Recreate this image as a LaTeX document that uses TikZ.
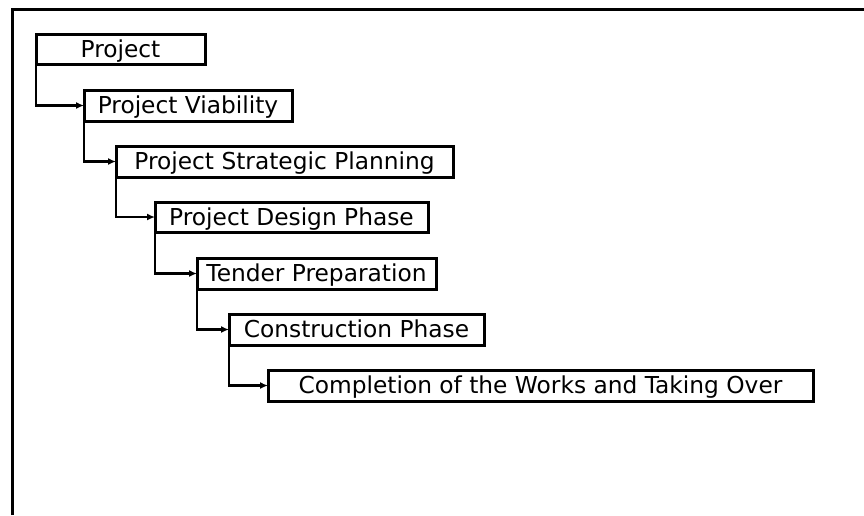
\documentclass[tikz,border=0pt]{standalone}
\usepackage{fontspec}
\setmainfont{DejaVu Sans}
\usetikzlibrary{arrows.meta}
\begin{document}
\begin{tikzpicture}[x=1pt,y=-1pt,
  stagebox/.style={draw=black, line width=3pt, fill=white, inner sep=0pt, outer sep=0pt,
    font=\fontsize{23.3}{26}\selectfont, text=black, text height=16.9pt, text depth=0pt},
  link/.style={line width=2.2pt, -{Latex[length=8pt,width=7pt]}}]
\useasboundingbox (0,0) rectangle (864,515);
\fill[white] (0,0) rectangle (864,515);
% outer frame (only top and left edges visible)
\draw[line width=3.5pt] (12.5,515) -- (12.5,9.5) -- (864,9.5);
% stages
\node[stagebox, minimum width=169pt, minimum height=30pt] (b1) at (120.5,49) {Project};
\node[stagebox, minimum width=208pt, minimum height=31pt] (b2) at (188,105.5) {Project Viability};
\node[stagebox, minimum width=337pt, minimum height=31pt] (b3) at (284.5,161.5) {Project Strategic Planning};
\node[stagebox, minimum width=273pt, minimum height=30pt] (b4) at (291.5,217) {Project Design Phase};
\node[stagebox, minimum width=239pt, minimum height=31pt] (b5) at (316.5,273.5) {Tender Preparation};
\node[stagebox, minimum width=255pt, minimum height=31pt] (b6) at (356.5,329.5) {Construction Phase};
\node[stagebox, minimum width=545pt, minimum height=31pt] (b7) at (540.5,385.5) {Completion of the Works and Taking Over};
% connectors
\draw[link] (b1.west) |- (b2.west);
\draw[link] (b2.west) |- (b3.west);
\draw[link] (b3.west) |- (b4.west);
\draw[link] (b4.west) |- (b5.west);
\draw[link] (b5.west) |- (b6.west);
\draw[link] (b6.west) |- (b7.west);
\end{tikzpicture}
\end{document}
